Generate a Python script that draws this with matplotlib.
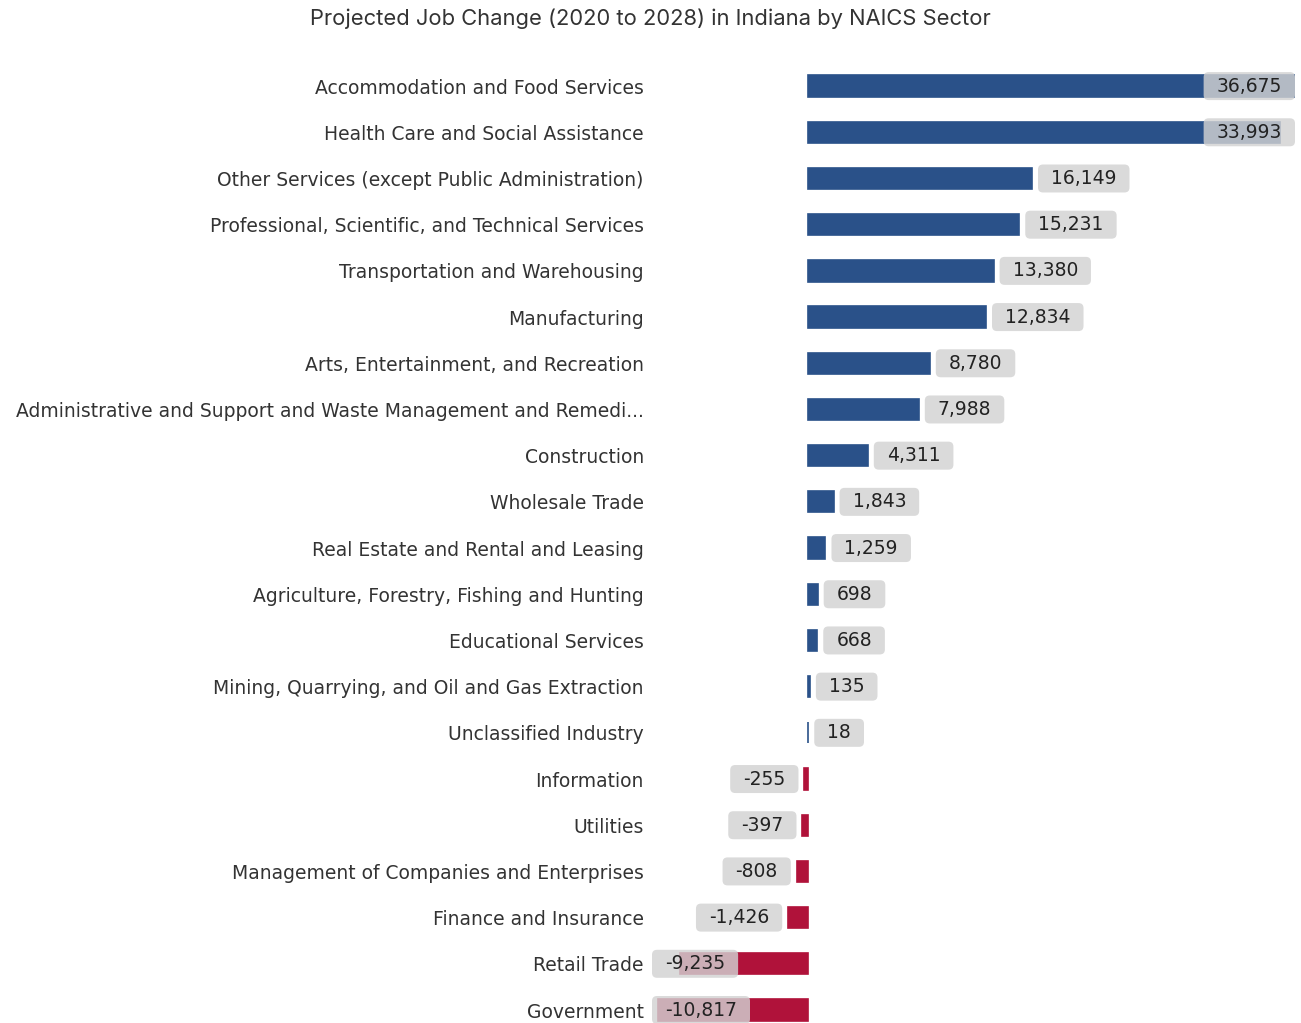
import matplotlib
matplotlib.use("Agg")
import matplotlib.pyplot as plt
from matplotlib.patches import FancyBboxPatch
from matplotlib.transforms import IdentityTransform

sectors = [
    "Accommodation and Food Services",
    "Health Care and Social Assistance",
    "Other Services (except Public Administration)",
    "Professional, Scientific, and Technical Services",
    "Transportation and Warehousing",
    "Manufacturing",
    "Arts, Entertainment, and Recreation",
    "Administrative and Support and Waste Management and Remedi...",
    "Construction",
    "Wholesale Trade",
    "Real Estate and Rental and Leasing",
    "Agriculture, Forestry, Fishing and Hunting",
    "Educational Services",
    "Mining, Quarrying, and Oil and Gas Extraction",
    "Unclassified Industry",
    "Information",
    "Utilities",
    "Management of Companies and Enterprises",
    "Finance and Insurance",
    "Retail Trade",
    "Government",
]
job_change = [36675, 33993, 16149, 15231, 13380, 12834, 8780, 7988, 4311,
              1843, 1259, 698, 668, 135, 18, -255, -397, -808, -1426,
              -9235, -10817]

blue = "#2a5189"
red = "#b0123a"
W, H = 1301, 1023

fig = plt.figure(figsize=(W / 100, H / 100), dpi=100)
# plot area in pixels: x 650..1295, y 63..1023
ax = fig.add_axes([650 / W, 0, (1295 - 650) / W, (H - 63) / H])

n = len(sectors)
ypos = list(range(n))
colors = [blue if v >= 0 else red for v in job_change]
ax.barh(ypos, job_change, height=0.46, color=colors, edgecolor=colors,
        linewidth=1.2, zorder=2)

px_per_unit = (1032 - 808) / 16149
ax.set_xlim((650 - 808) / px_per_unit, (1295 - 808) / px_per_unit)
ax.set_ylim(20 + (1023 - 1010) / 46.2, -0.5)

ax.set_yticks(ypos)
ax.set_yticklabels(sectors, fontsize=13.5, color="#333333",
                   family="DejaVu Sans")
ax.tick_params(axis="y", length=0, pad=4.5)
ax.set_xticks([])
for s in ax.spines.values():
    s.set_visible(False)

fig.text(650 / W, 1 - 19 / H,
         "Projected Job Change (2020 to 2028) in Indiana by NAICS Sector",
         ha="center", va="center", fontsize=15.8, color="#333333",
         family=["Inter", "DejaVu Sans"])

# value labels: placed just outside the bar end, kept inside the plot area
texts = []
for i, v in enumerate(job_change):
    t = ax.text(v, i, f"{v:,}", ha="center", va="center", fontsize=13.5,
                color="#222222", family="DejaVu Sans", zorder=6, clip_on=False)
    texts.append(t)

fig.canvas.draw()
r = fig.canvas.get_renderer()
ax_box = ax.get_window_extent(r)
gap, padx, box_h = 6, 13, 28
for i, (t, v) in enumerate(zip(texts, job_change)):
    tb = t.get_window_extent(r)
    bw = tb.width + 2 * padx
    end_x, cy = ax.transData.transform((v, i))
    if v >= 0:
        x0 = end_x + gap
    else:
        x0 = end_x - gap - bw
    x0 = min(max(x0, ax_box.x0 + 2), ax_box.x1 - bw)
    box = FancyBboxPatch((x0, cy - box_h / 2), bw, box_h,
                         boxstyle="round,pad=0,rounding_size=5",
                         transform=IdentityTransform(), fc="#d2d2d2",
                         ec="none", alpha=0.82, zorder=4, clip_on=False)
    ax.add_artist(box)
    xc = ax.transData.inverted().transform((x0 + bw / 2, cy))[0]
    t.set_x(xc)

fig.savefig("out.png", dpi=100)
